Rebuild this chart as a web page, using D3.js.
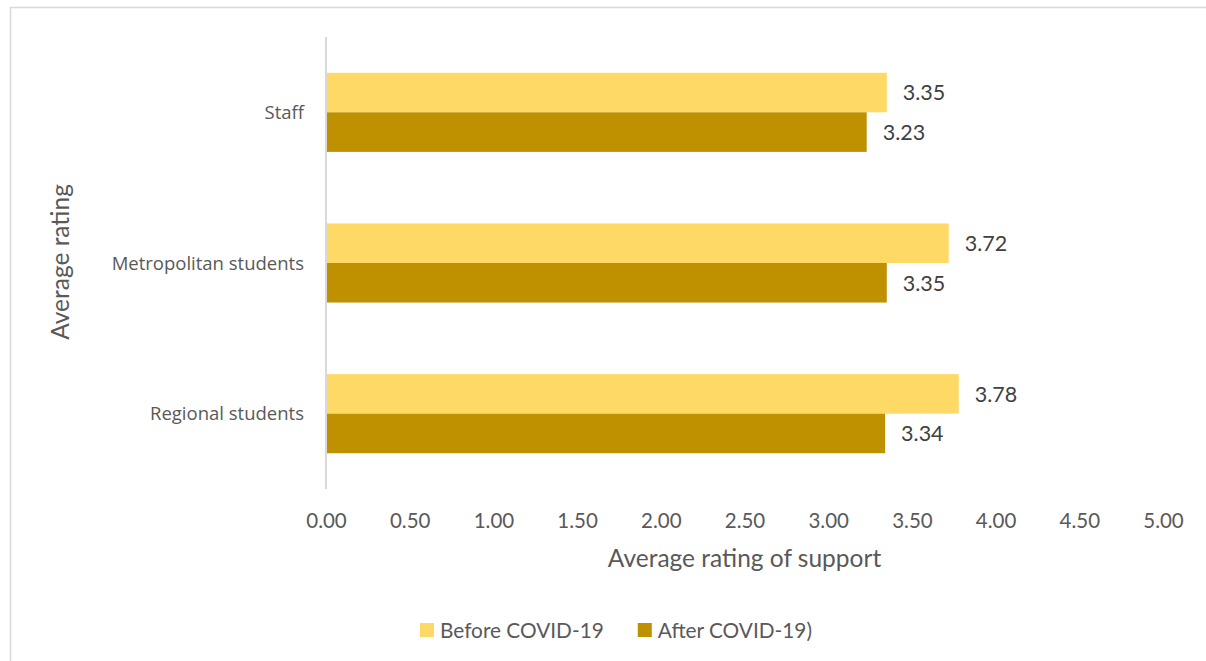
<!DOCTYPE html>
<html>
<head>
<meta charset="utf-8">
<script src="https://cdn.jsdelivr.net/npm/d3@7"></script>
<style>
  html, body { margin: 0; padding: 0; background: #fff; }
  svg { display: block; }
</style>
</head>
<body>
<svg id="chart" width="1206" height="661"></svg>
<script>
// Rating data per group
const categories = ["Staff", "Metropolitan students", "Regional students"];
const seriesNames = ["Before COVID-19", "After COVID-19)"];
const beforeValues = [3.35, 3.72, 3.78];
const afterValues = [3.23, 3.35, 3.34];
const tickValues = [0, 0.5, 1, 1.5, 2, 2.5, 3, 3.5, 4, 4.5, 5];
const seriesColors = ["#FFD966", "#BF9000"];

const svg = d3.select("#chart");
const W = 1206, H = 661;
const textColor = "#595959";
const numFont = "Lato, 'Liberation Sans', sans-serif";
const labelFont = "'Open Sans', 'DejaVu Sans', sans-serif";

// Outer frame
svg.append("rect")
  .attr("x", 10.5).attr("y", 7.5)
  .attr("width", W).attr("height", H)
  .attr("fill", "#fff").attr("stroke", "#D9D9D9").attr("stroke-width", 1.5);

const plot = { left: 326, right: 1163, top: 37, bottom: 489 };

const x = d3.scaleLinear().domain([0, 5]).range([plot.left, plot.right]);
const y = d3.scaleBand().domain(categories).range([plot.top, plot.bottom])
  .paddingInner(0.475).paddingOuter(0.2375);
const ySub = d3.scaleBand().domain([0, 1]).range([0, y.bandwidth()]);

const rows = categories.map((c, i) => ({ cat: c, vals: [beforeValues[i], afterValues[i]] }));

// Bars
const groups = svg.append("g").selectAll("g").data(rows).join("g")
  .attr("transform", d => `translate(0,${y(d.cat)})`);

groups.selectAll("rect").data(d => d.vals).join("rect")
  .attr("x", x(0))
  .attr("y", (v, j) => ySub(j))
  .attr("width", v => x(v) - x(0))
  .attr("height", ySub.bandwidth())
  .attr("fill", (v, j) => seriesColors[j]);

// Value labels
groups.selectAll("text").data(d => d.vals).join("text")
  .attr("x", v => x(v) + 16)
  .attr("y", (v, j) => ySub(j) + ySub.bandwidth() / 2)
  .attr("dy", "0.36em")
  .attr("font-family", numFont)
  .attr("font-size", 21.5)
  .attr("fill", "#404040")
  .text(v => v.toFixed(2));

// Vertical axis line
svg.append("line")
  .attr("x1", x(0)).attr("x2", x(0))
  .attr("y1", plot.top).attr("y2", plot.bottom)
  .attr("stroke", "#D9D9D9").attr("stroke-width", 2);

// Category labels
svg.append("g").selectAll("text").data(categories).join("text")
  .attr("x", plot.left - 22)
  .attr("y", d => y(d) + y.bandwidth() / 2)
  .attr("dy", "0.36em")
  .attr("text-anchor", "end")
  .attr("font-family", labelFont)
  .attr("font-size", 18.5)
  .attr("fill", textColor)
  .text(d => d);

// X axis tick labels
const xAxis = d3.axisBottom(x).tickValues(tickValues).tickSize(0).tickPadding(0)
  .tickFormat(d3.format(".2f"));
const gx = svg.append("g").attr("transform", `translate(0,${plot.bottom + 32})`).call(xAxis);
gx.select(".domain").remove();
gx.selectAll("text")
  .attr("dy", "0.36em")
  .attr("y", 0)
  .attr("font-family", numFont)
  .attr("font-size", 20.5)
  .attr("fill", textColor);

// Axis titles
svg.append("text")
  .attr("x", (plot.left + plot.right) / 2)
  .attr("y", 558)
  .attr("dy", "0.36em")
  .attr("text-anchor", "middle")
  .attr("font-family", numFont)
  .attr("font-size", 24.5)
  .attr("fill", textColor)
  .text("Average rating of support");

svg.append("text")
  .attr("transform", "translate(60,262) rotate(-90)")
  .attr("dy", "0.36em")
  .attr("text-anchor", "middle")
  .attr("font-family", numFont)
  .attr("font-size", 24.5)
  .attr("fill", textColor)
  .text("Average rating");

// Legend
const legend = svg.append("g").attr("transform", "translate(420,630)");
let lx = 0;
seriesNames.forEach((name, i) => {
  const item = legend.append("g").attr("transform", `translate(${lx},0)`);
  item.append("rect").attr("x", 0).attr("y", -7).attr("width", 14).attr("height", 14)
    .attr("fill", seriesColors[i]);
  const t = item.append("text").attr("x", 20).attr("y", 0).attr("dy", "0.36em")
    .attr("font-family", numFont).attr("font-size", 20.8).attr("fill", textColor)
    .text(name);
  lx += 20 + t.node().getComputedTextLength() + 34;
});
</script>
</body>
</html>
